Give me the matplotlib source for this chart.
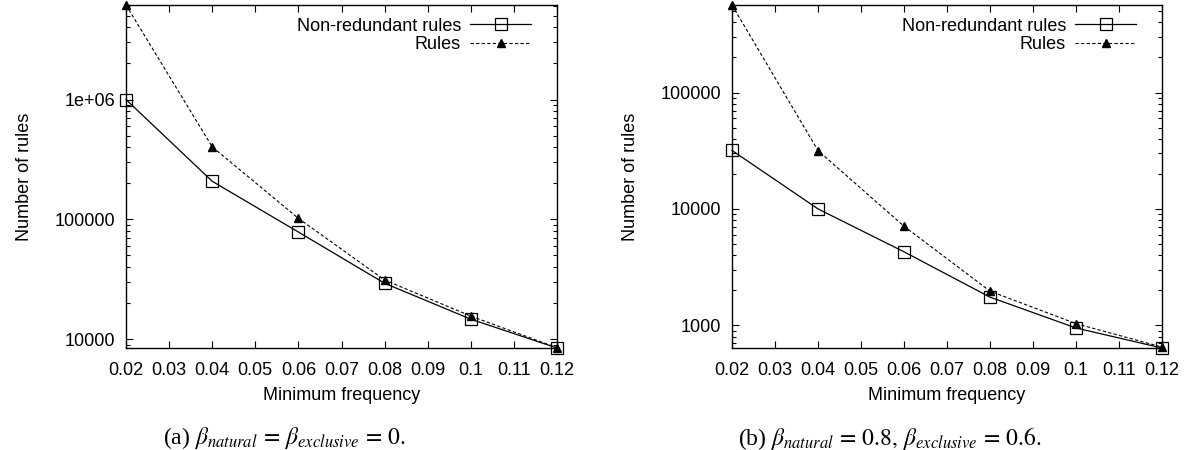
# Number of rules vs minimum frequency (two panels, log y axis)

import numpy as np
import matplotlib
matplotlib.use('Agg')
import matplotlib.pyplot as plt
from matplotlib.ticker import FixedLocator, FixedFormatter, LogLocator, NullFormatter

plt.rcParams['font.family'] = ['Liberation Sans', 'DejaVu Sans']
plt.rcParams['mathtext.fontset'] = 'stix'

# data
min_freq = [0.02, 0.04, 0.06, 0.08, 0.10, 0.12]

# (a) beta_natural = beta_exclusive = 0
nonredundant_a = [1.0e6, 208000, 78400, 29300, 14700, 8450]
rules_a = [6.15e6, 403000, 102000, 31200, 15600, 8500]

# (b) beta_natural = 0.8, beta_exclusive = 0.6
nonredundant_b = [31800, 10000, 4280, 1745, 948, 638]
rules_b = [565000, 31700, 7100, 1965, 1033, 650]

xticks = [0.02, 0.03, 0.04, 0.05, 0.06, 0.07, 0.08, 0.09, 0.10, 0.11, 0.12]
xtick_labels = ['0.02', '0.03', '0.04', '0.05', '0.06', '0.07', '0.08', '0.09', '0.1', '0.11', '0.12']

yticks_a = [1e4, 1e5, 1e6]
ytick_labels_a = ['10000', '100000', '1e+06']
yticks_b = [1e3, 1e4, 1e5]
ytick_labels_b = ['1000', '10000', '100000']

captions = [r'(a) $\beta_{natural}\,=\,\beta_{exclusive}\,=\,0.$',
            r'(b) $\beta_{natural}\,=\,0.8,\, \beta_{exclusive}\,=\,0.6.$']

fig = plt.figure(figsize=(11.91, 4.5), dpi=100)
ax_a = fig.add_axes([126 / 1191, 102 / 450, 431 / 1191, 343 / 450])
ax_b = fig.add_axes([732 / 1191, 102 / 450, 430 / 1191, 343 / 450])

panels = [
    (ax_a, nonredundant_a, rules_a, yticks_a, ytick_labels_a),
    (ax_b, nonredundant_b, rules_b, yticks_b, ytick_labels_b),
]

for ax, nr, rl, yt, ytl in panels:
    ax.plot(min_freq, nr, color='black', linewidth=0.9, marker='s', markersize=8,
            markerfacecolor='none', markeredgecolor='black', markeredgewidth=0.9,
            clip_on=False, label='Non-redundant rules')
    ax.plot(min_freq, rl, color='black', linewidth=0.8, linestyle=(0, (3, 2)),
            marker='^', markersize=6, markerfacecolor='black', markeredgecolor='black',
            clip_on=False, label='Rules')
    ax.set_yscale('log')
    ax.set_xlim(0.02, 0.12)
    ymin = min(min(nr), min(rl))
    ymax = max(max(nr), max(rl))
    ax.set_ylim(ymin, ymax)

    ax.xaxis.set_major_locator(FixedLocator(xticks))
    ax.xaxis.set_major_formatter(FixedFormatter(xtick_labels))
    ax.yaxis.set_major_locator(FixedLocator(yt))
    ax.yaxis.set_major_formatter(FixedFormatter(ytl))
    ax.yaxis.set_minor_locator(LogLocator(base=10, subs=np.arange(2, 10)))
    ax.yaxis.set_minor_formatter(NullFormatter())

    ax.tick_params(which='both', direction='in', top=True, right=True,
                   labelsize=13, width=0.8)
    ax.tick_params(axis='x', pad=10)
    ax.tick_params(axis='y', pad=8)
    ax.tick_params(which='major', length=5)
    ax.tick_params(which='minor', length=3)
    for s in ax.spines.values():
        s.set_linewidth(1.0)

    ax.set_xlabel('Minimum frequency', fontsize=13, labelpad=6)
    ax.set_ylabel('Number of rules', fontsize=13, labelpad=15)

    ax.legend(loc='upper right', frameon=False, fontsize=13, markerfirst=False,
              handlelength=3.4, handletextpad=0.5, labelspacing=0.1,
              borderaxespad=0.3, bbox_to_anchor=(0.97, 1.0))

fig.text(285 / 1191, 12 / 450, captions[0], ha='center', va='center',
         fontsize=17, family=['Liberation Serif', 'DejaVu Serif'])
fig.text(890 / 1191, 12 / 450, captions[1], ha='center', va='center',
         fontsize=17, family=['Liberation Serif', 'DejaVu Serif'])

fig.savefig('out.png', dpi=100)
